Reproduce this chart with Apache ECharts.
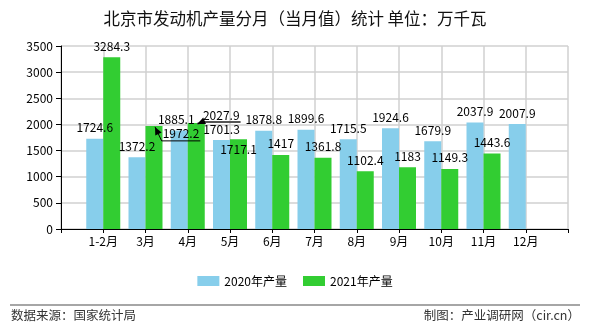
<!DOCTYPE html>
<html>
<head>
<meta charset="utf-8">
<script src="https://cdn.jsdelivr.net/npm/echarts@6/dist/echarts.min.js"></script>
<style>html,body{margin:0;padding:0;background:#fff;}#c{width:590px;height:330px;}</style>
</head>
<body>
<div id="c"></div>
<script>
const categories = ['1-2月','3月','4月','5月','6月','7月','8月','9月','10月','11月','12月'];
const values2020 = [1724.6,1372.2,1885.1,1701.3,1878.8,1899.6,1715.5,1924.6,1679.9,2037.9,2007.9];
const values2021 = [3284.3,1972.2,2027.9,1717.1,1417,1361.8,1102.4,1183,1149.3,1443.6,null];
const seriesNames = ['2020年产量','2021年产量'];
const yTicks = [0,500,1000,1500,2000,2500,3000,3500];

const FONT = 'Noto Sans CJK SC';
const xData = [''].concat(categories, ['']);
function pad(arr){ return [null].concat(arr, [null]); }

// label moves for overlapping labels (padded index)
const moves2021 = {2:{dx:27,dy:19,line:{color:'#000',width:1}},3:{dx:25,dy:3,line:{color:'#555',width:2}},4:{dx:0,dy:21}};
const moves2020 = {3:{dx:-3,dy:0}};
const captured = {};

const baseGraphic = [
  {id:'foot-line',type:'line',shape:{x1:10,y1:305,x2:580,y2:305},style:{stroke:'#888',lineWidth:1.5}},
  {id:'foot-l',type:'text',left:11,top:309,style:{text:'数据来源：国家统计局',fontSize:12.5,fill:'#333',fontFamily:FONT}},
  {id:'foot-r',type:'text',right:10,top:309,style:{text:'制图：产业调研网（cir.cn）',fontSize:12.5,fill:'#333',fontFamily:FONT}}
];

const chart = echarts.init(document.getElementById('c'));
chart.setOption({
  animation:false,
  textStyle:{fontFamily:FONT},
  title:{text:'北京市发动机产量分月（当月值）统计 单位：万千瓦',left:'center',top:5,
    textStyle:{fontSize:16.5,fontWeight:'normal',color:'#111',fontFamily:FONT}},
  grid:{left:61,right:22,top:46,bottom:101,containLabel:false},
  legend:{data:seriesNames,top:270,left:'center',itemWidth:22,itemHeight:10,itemGap:16,icon:'rect',
    textStyle:{fontSize:12,color:'#000',fontFamily:FONT}},
  xAxis:{type:'category',data:xData,boundaryGap:false,
    axisLine:{lineStyle:{color:'#000',width:1}},
    axisTick:{show:true,length:4,lineStyle:{color:'#000'}},
    axisLabel:{interval:0,color:'#000',fontSize:12,margin:6,fontFamily:FONT},
    splitLine:{show:true,lineStyle:{color:'#d0d0d0',width:1.5}}},
  yAxis:{type:'value',min:yTicks[0],max:yTicks[yTicks.length-1],interval:500,
    axisLine:{show:true,lineStyle:{color:'#000',width:1}},
    axisTick:{show:true,length:5,lineStyle:{color:'#000'}},
    axisLabel:{color:'#000',fontSize:12,margin:8,fontFamily:FONT,formatter:function(v){return String(v);}},
    splitLine:{show:true,lineStyle:{color:'#d0d0d0',width:1.5}}},
  series:[
    {name:seriesNames[0],type:'bar',data:pad(values2020),barWidth:17,barGap:'0%',
      itemStyle:{color:'#87CEEB'},
      label:{show:true,position:'top',distance:5,color:'#000',fontSize:12,fontFamily:FONT},
      labelLayout:function(p){const m=moves2020[p.dataIndex];return m?{dx:m.dx,dy:m.dy}:{};}},
    {name:seriesNames[1],type:'bar',data:pad(values2021),barWidth:17,barGap:'0%',
      itemStyle:{color:'#32CD32'},
      label:{show:true,position:'top',distance:5,color:'#000',fontSize:12,fontFamily:FONT},
      labelLayout:function(p){
        const m=moves2021[p.dataIndex];
        if(!m) return {};
        if(m.line) captured[p.dataIndex]={rect:p.rect,labelRect:p.labelRect};
        return {dx:m.dx,dy:m.dy};
      }}
  ],
  graphic:baseGraphic
});

// connector lines with arrowheads, positioned from the library's own layout
const extra = [];
Object.keys(captured).forEach(function(k){
  const m = moves2021[k], c = captured[k];
  const r = c.rect, lr = c.labelRect;
  const top = Math.min(r.y, r.y + r.height);
  const tip = [r.x + r.width/2 + 1, top + 1];
  const lx = lr.x + m.dx, ly = lr.y + m.dy;
  const cy = ly + lr.height/2;
  const under = cy + 7;
  const p1 = [lx - 1, under];
  const p2 = [lx + lr.width + 1, under];
  extra.push({id:'conn'+k,type:'polyline',z:100,shape:{points:[tip,p1,p2]},
    style:{stroke:m.line.color,lineWidth:m.line.width,fill:null}});
  const ddx = tip[0]-p1[0], ddy = tip[1]-p1[1];
  const len = Math.sqrt(ddx*ddx+ddy*ddy)||1;
  const ux = ddx/len, uy = ddy/len;
  const L = 8, W = 3.5;
  const bx = tip[0]-ux*L, by = tip[1]-uy*L;
  extra.push({id:'arrow'+k,type:'polygon',z:101,shape:{points:[tip,[bx-uy*W,by+ux*W],[bx+uy*W,by-ux*W]]},
    style:{fill:'#000',stroke:null}});
});
chart.setOption({graphic:baseGraphic.concat(extra)});
</script>
</body>
</html>
